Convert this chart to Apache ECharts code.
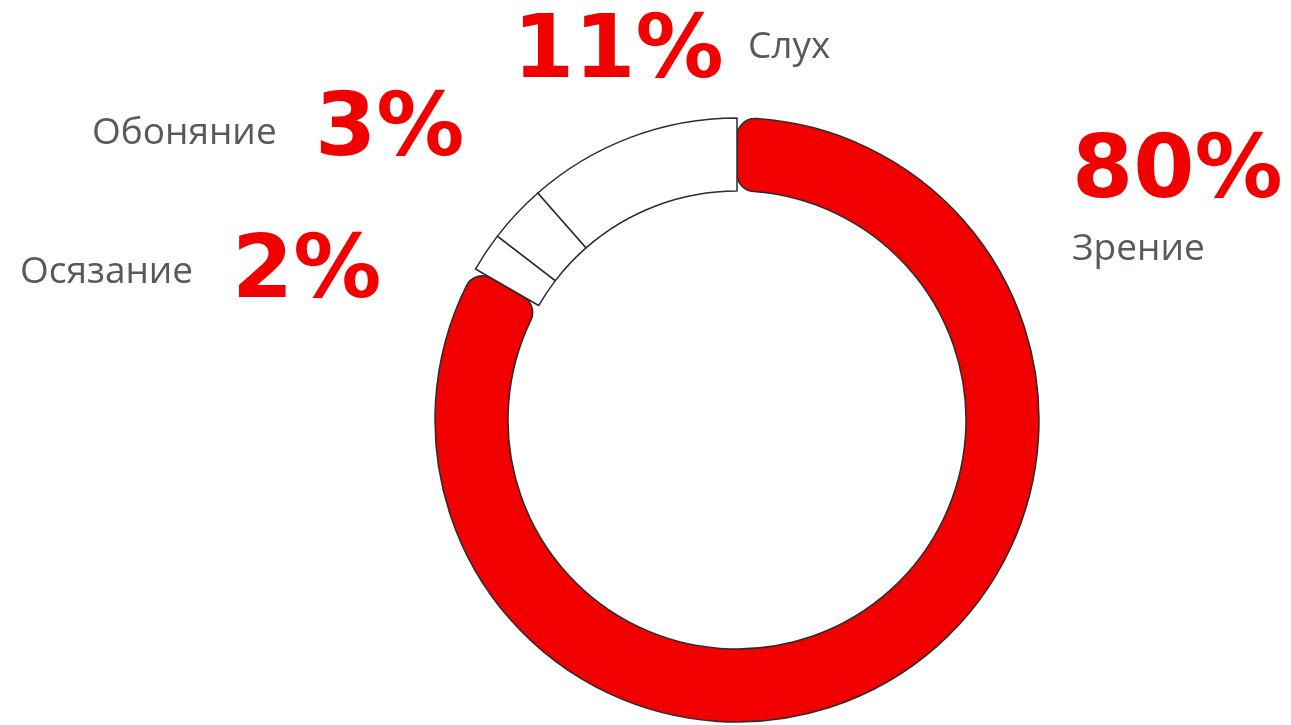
<!DOCTYPE html>
<html>
<head>
<meta charset="utf-8">
<script src="https://cdn.jsdelivr.net/npm/echarts@6/dist/echarts.min.js"></script>
<style>
  html, body { margin: 0; padding: 0; background: #fff; }
  #chart { width: 1291px; height: 725px; }
</style>
</head>
<body>
<div id="chart"></div>
<script>
// данные (по часовой стрелке от верхней точки)
const senses = ["Зрение", "Осязание", "Обоняние", "Слух"];
const shares = [80, 2, 3, 11];

// оформление
const RED = "#f20000";
const GREY = "#555a5e";
const fillColors = [RED, "#ffffff", "#ffffff", "#ffffff"];
// где стоят подписи: число и название
const labelPlace = {
  "Зрение":   { num: [1072, 174], name: [1072, 249] },
  "Осязание": { num: [232, 274],  name: [20, 272] },
  "Обоняние": { num: [315, 132],  name: [92, 133] },
  "Слух":     { num: [513, 54],   name: [748, 47] }
};

let myChart = echarts.init(document.getElementById("chart"));

let graphics = [];
senses.forEach(function (s, i) {
  let p = labelPlace[s];
  graphics.push({
    type: "text",
    x: p.num[0],
    y: p.num[1],
    style: {
      text: shares[i] + "%",
      fill: RED,
      font: "bold 88px 'DejaVu Sans'",
      verticalAlign: "middle"
    }
  });
  graphics.push({
    type: "text",
    x: p.name[0],
    y: p.name[1],
    style: {
      text: s,
      fill: GREY,
      font: "37px 'Open Sans'",
      verticalAlign: "middle"
    }
  });
});

myChart.setOption({
  animation: false,
  backgroundColor: "#ffffff",
  graphic: graphics,
  series: [{
    type: "pie",
    center: [737, 420],
    radius: [229, 302],
    startAngle: 90,
    clockwise: true,
    avoidLabelOverlap: false,
    silent: true,
    label: { show: false },
    labelLine: { show: false },
    data: senses.map(function (s, i) {
      return {
        name: s,
        value: shares[i],
        itemStyle: {
          color: fillColors[i],
          borderColor: "#2b2b2b",
          borderWidth: 1.5,
          borderRadius: i === 0 ? 18 : 0
        }
      };
    })
  }]
});

window.addEventListener("resize", function () {
  myChart.resize();
});
</script>
</body>
</html>
